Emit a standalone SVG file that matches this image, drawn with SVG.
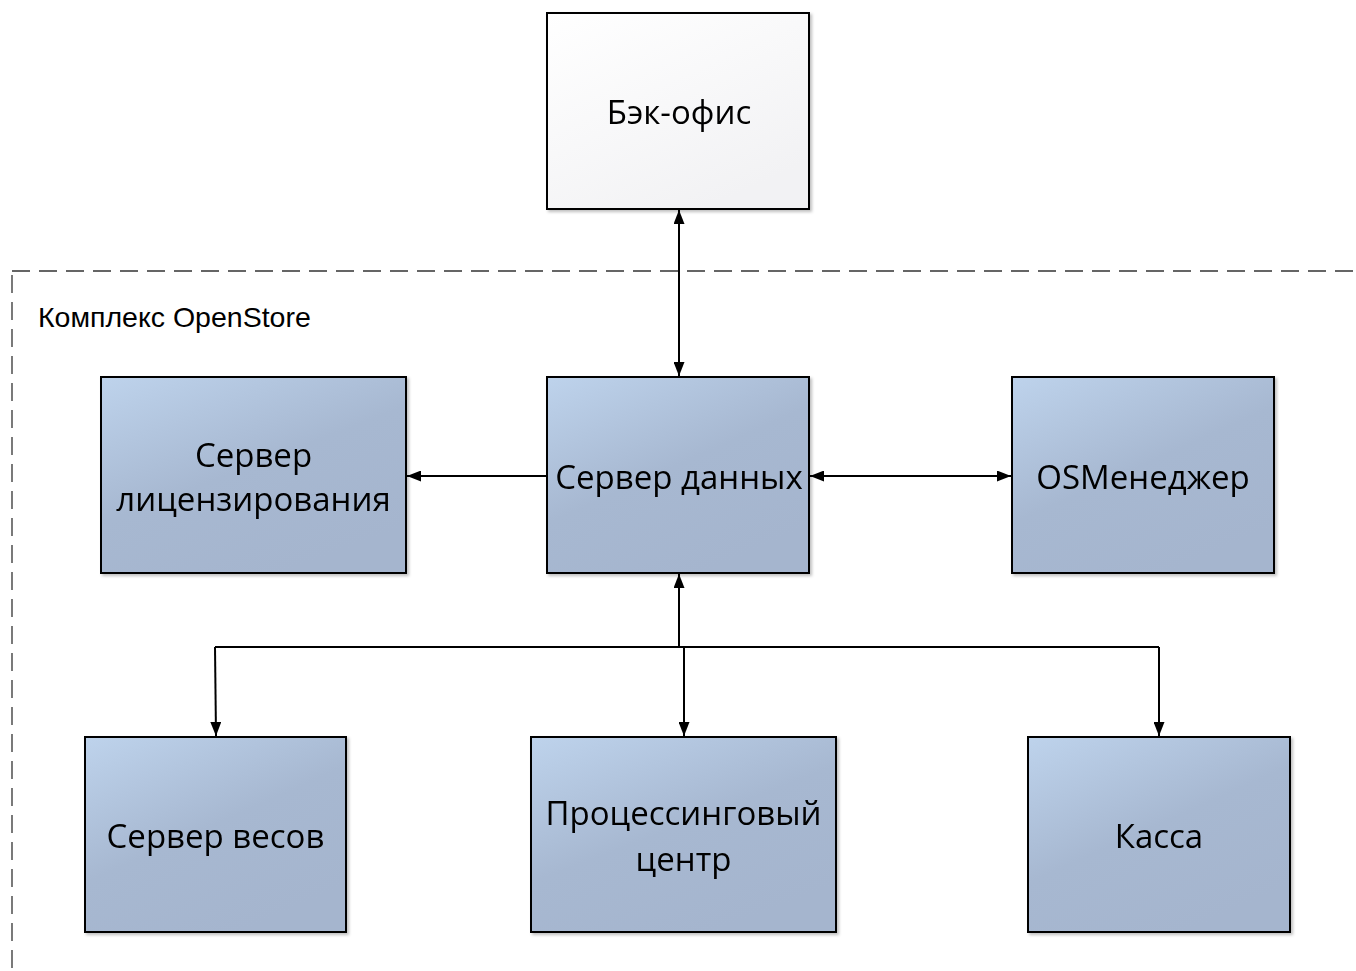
<svg xmlns="http://www.w3.org/2000/svg" width="1356" height="971" viewBox="0 0 1356 971">
<style>
.box{fill:url(#g);stroke:#000;stroke-width:2}
.wbox{fill:url(#gw);stroke:#000;stroke-width:2}
.t{font-family:"Open Sans","Noto Sans","DejaVu Sans",sans-serif;font-size:33px;fill:#000;text-anchor:middle;dominant-baseline:central}
.lbl{font-family:"Liberation Sans",Arial,sans-serif;font-size:28.5px;fill:#000}
.c{fill:none;stroke:#000;stroke-width:2}
.d{fill:none;stroke:#333;stroke-width:1.3;stroke-dasharray:18 9}
</style>
<defs>
<linearGradient id="g" x1="0" y1="0" x2="0.6" y2="1">
<stop offset="0" stop-color="#bed3ec"/>
<stop offset="0.55" stop-color="#a7b8d1"/>
<stop offset="1" stop-color="#a5b5ce"/>
</linearGradient>
<linearGradient id="gw" x1="0" y1="0" x2="0.6" y2="1">
<stop offset="0" stop-color="#ffffff"/>
<stop offset="1" stop-color="#f2f2f4"/>
</linearGradient>
<filter id="sh" x="-5%" y="-5%" width="115%" height="115%">
<feDropShadow dx="2" dy="2" stdDeviation="1.5" flood-color="#000" flood-opacity="0.25"/>
</filter>
<marker id="a" viewBox="0 0 14 11" refX="14" refY="5.5" markerWidth="14" markerHeight="11" markerUnits="userSpaceOnUse" orient="auto-start-reverse">
<path d="M0,0 L14,5.5 L0,11 Z" fill="#000"/>
</marker>
</defs>
<g id="container">
<path class="d" d="M12,271 H1356"/>
<path class="d" d="M12,275 V971"/>
<text class="lbl" x="38" y="327">Комплекс OpenStore</text>
</g>
<g id="connectors">
<path class="c" d="M679,210 V376" marker-start="url(#a)" marker-end="url(#a)"/>
<path class="c" d="M547,476 H407" marker-end="url(#a)"/>
<path class="c" d="M810,476 H1011" marker-start="url(#a)" marker-end="url(#a)"/>
<path class="c" d="M679,647 V574" marker-end="url(#a)"/>
<path class="c" d="M215,647 H1159"/>
<path class="c" d="M215,647 L216,736" marker-end="url(#a)"/>
<path class="c" d="M684,647 V736" marker-end="url(#a)"/>
<path class="c" d="M1159,647 V736" marker-end="url(#a)"/>
</g>
<g id="backoffice" filter="url(#sh)">
<rect class="wbox" x="547" y="13" width="262" height="196"/>
<text class="t" x="679" y="111">Бэк-офис</text>
</g>
<g id="license" filter="url(#sh)">
<rect class="box" x="101" y="377" width="305" height="196"/>
<text class="t" x="253.5" y="454">Сервер</text>
<text class="t" x="253.5" y="498">лицензирования</text>
</g>
<g id="dataserver" filter="url(#sh)">
<rect class="box" x="547" y="377" width="262" height="196"/>
<text class="t" x="679" y="476">Сервер данных</text>
</g>
<g id="osmanager" filter="url(#sh)">
<rect class="box" x="1012" y="377" width="262" height="196"/>
<text class="t" x="1143" y="476">OSМенеджер</text>
</g>
<g id="scales" filter="url(#sh)">
<rect class="box" x="85" y="737" width="261" height="195"/>
<text class="t" x="215.5" y="835">Сервер весов</text>
</g>
<g id="processing" filter="url(#sh)">
<rect class="box" x="531" y="737" width="305" height="195"/>
<text class="t" x="683.5" y="812">Процессинговый</text>
<text class="t" x="683.5" y="858">центр</text>
</g>
<g id="kassa" filter="url(#sh)">
<rect class="box" x="1028" y="737" width="262" height="195"/>
<text class="t" x="1159" y="835">Касса</text>
</g>
</svg>
